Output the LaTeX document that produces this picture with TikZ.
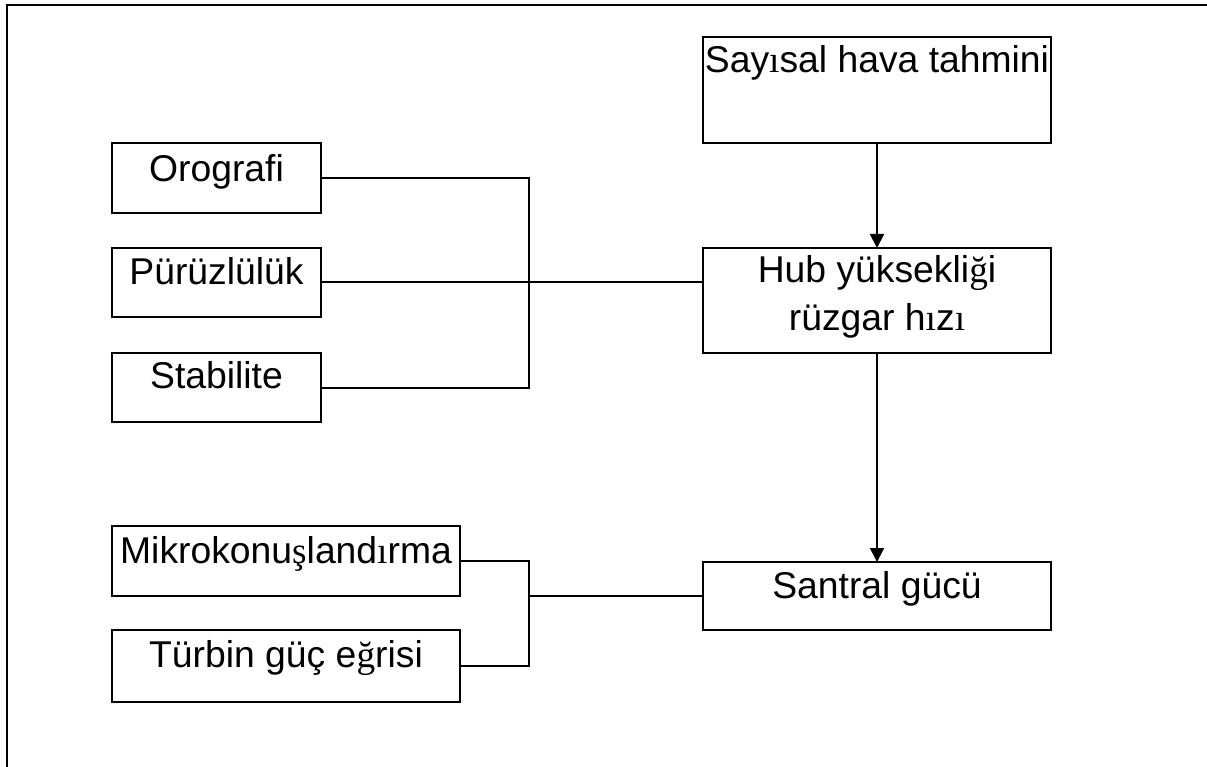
\documentclass[tikz,border=0pt]{standalone}
\usepackage{fontspec}
\setmainfont{Liberation Sans}
\newfontfamily\trs{Liberation Serif}
\usetikzlibrary{arrows.meta}
\tikzset{
  box/.style={draw=black, line width=2pt, inner sep=0pt, outer sep=0pt, fill=none},
  lbl/.style={anchor=base, inner sep=0pt, font=\fontsize{37.3}{47}\selectfont},
  conn/.style={draw=black, line width=2pt},
  arr/.style={draw=black, line width=2pt, -{Triangle[length=14pt,width=14pt]}},
  frame/.style={draw=black, line width=2.2pt}
}
\begin{document}
\begin{tikzpicture}[x=1pt,y=-1pt]
\useasboundingbox (0,0) rectangle (1207,767);
% frame
\coordinate (fa) at (1208,5);
\coordinate (fb) at (7,5);
\coordinate (fc) at (7,768);
\draw[frame] (fa) -- (fb) -- (fc);
% right column
\node[box, minimum width=348pt, minimum height=106pt] (say) at (877,90) {};
\node[box, minimum width=348pt, minimum height=105pt] (hub) at (877,300.5) {};
\node[box, minimum width=348pt, minimum height=68pt] (san) at (877,596) {};
% left boxes
\node[box, minimum width=209pt, minimum height=70pt] (oro) at (216.5,178) {};
\node[box, minimum width=209pt, minimum height=69pt] (pur) at (216.5,282.5) {};
\node[box, minimum width=209pt, minimum height=69pt] (sta) at (216.5,387.5) {};
\node[box, minimum width=348pt, minimum height=70pt] (mik) at (286,561) {};
\node[box, minimum width=348pt, minimum height=72pt] (tur) at (286,666) {};
% labels
\node[lbl] (sayl) at ([yshift=-36pt]say.north) {Say{\trs ı}sal hava tahmini};
\node[lbl] (hubl1) at ([yshift=-35pt]hub.north) {Hub yüksekli{\trs ğ}i};
\node[lbl] (hubl2) at ([yshift=-82pt]hub.north) {rüzgar h{\trs ı}z{\trs ı}};
\node[lbl] (sanl) at ([yshift=-36pt]san.north) {Santral gücü};
\node[lbl] (orol) at ([yshift=-39pt]oro.north) {Orografi};
\node[lbl] (purl) at ([yshift=-36pt]pur.north) {Pürüzlülük};
\node[lbl] (stal) at ([yshift=-35pt]sta.north) {Stabilite};
\node[lbl] (mikl) at ([yshift=-37pt]mik.north) {Mikrokonu{\trs ş}land{\trs ı}rma};
\node[lbl] (turl) at ([yshift=-37pt]tur.north) {Türbin güç e{\trs ğ}risi};
% connectors
\coordinate (j1) at (529,283);
\coordinate (j2) at (529,596);
\draw[conn] (oro.east) -| (j1) |- (sta.east);
\draw[conn] (pur.east) -- (pur.east -| hub.west);
\draw[conn] (mik.east) -| (j2) |- (tur.east);
\draw[conn] (j2) -- (san.west);
\draw[arr] (say.south) -- (hub.north);
\draw[arr] (hub.south) -- (san.north);
\end{tikzpicture}
\end{document}
